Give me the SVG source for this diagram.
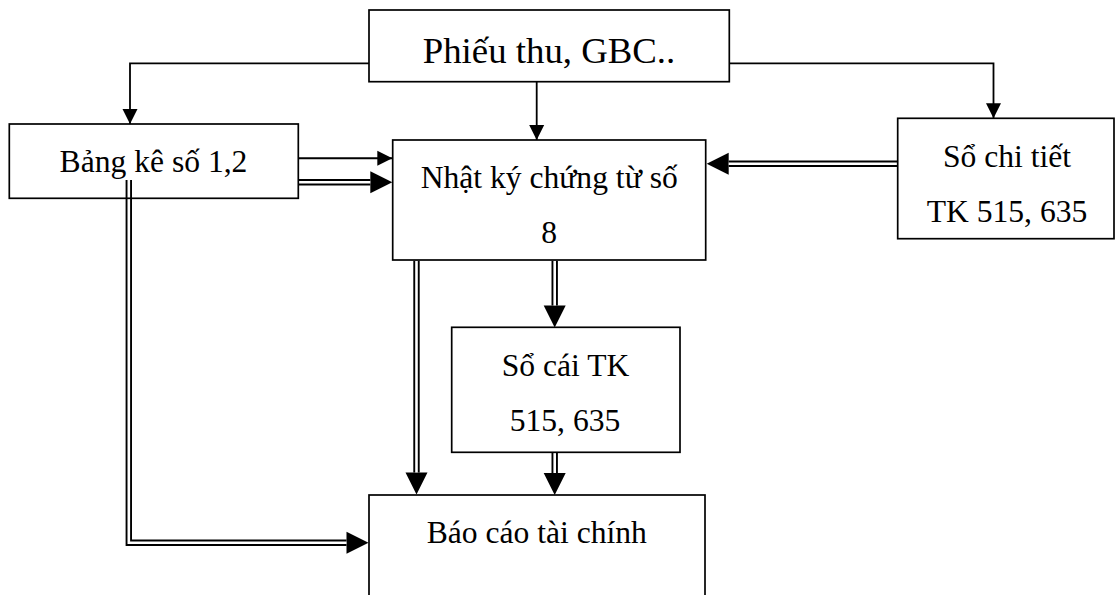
<svg xmlns="http://www.w3.org/2000/svg" width="1115" height="595" viewBox="0 0 1115 595">
  <style>
    .box { fill: none; stroke: #000; stroke-width: 1.7; }
    .lbl { font-family: "Liberation Serif", "Times New Roman", serif; font-size: 31.6px; fill: #000; text-anchor: middle; }
    .big { font-size: 36.8px; }
    .one { fill: none; stroke: #000; stroke-width: 1.8; marker-end: url(#head); }
    .dbl { fill: none; stroke: #000; stroke-width: 6.4; stroke-linejoin: miter; marker-end: url(#bighead); }
    .gap { fill: none; stroke: #fff; stroke-width: 2.6; stroke-linejoin: miter; }
  </style>
  <defs>
    <!-- small solid head, tip on the path end -->
    <marker id="head" markerUnits="userSpaceOnUse" markerWidth="16" markerHeight="16" refX="15" refY="7.5" orient="auto" overflow="visible">
      <path d="M0,0 L15,7.5 L0,15 z" fill="#000"/>
    </marker>
    <!-- large head for double lines, base on the path end -->
    <marker id="bighead" markerUnits="userSpaceOnUse" markerWidth="23" markerHeight="23" refX="0" refY="11" orient="auto" overflow="visible">
      <path d="M0,0 L22,11 L0,22 z" fill="#000"/>
    </marker>
  </defs>

  <rect width="1115" height="595" fill="#fff"/>

  <g id="connectors">
    <!-- single-line flows from the source documents -->
    <path class="one" d="M369,63.3 H130 V124"/>
    <path class="one" d="M536.7,81.7 V140"/>
    <path class="one" d="M729.3,63.3 H993.5 V118.3"/>
    <path class="one" style="stroke-width:2.1" d="M298,158.3 H392.3"/>

    <!-- double-line flows -->
    <path class="dbl" d="M298,182.2 H370.3"/>
    <path class="gap" d="M299,182.2 H370.3"/>

    <path class="dbl" d="M897,163.7 H728.7"/>
    <path class="gap" d="M897,163.7 H728.7"/>

    <path class="dbl" d="M416.5,260.8 V472.5"/>
    <path class="gap" d="M416.5,260.8 V472.5"/>

    <path class="dbl" d="M554.7,260.8 V305.5"/>
    <path class="gap" d="M554.7,260.8 V305.5"/>

    <path class="dbl" d="M554.7,453 V473"/>
    <path class="gap" d="M554.7,453 V473"/>

    <path class="dbl" d="M128.8,180 V542.8 H346.5"/>
    <path class="gap" d="M128.8,180 V542.8 H346.5"/>
  </g>

  <g id="phieu-thu">
    <rect class="box" x="369" y="10" width="360.3" height="71.7"/>
    <text class="lbl big" x="549" y="63.3">Phiếu thu, GBC..</text>
  </g>

  <g id="bang-ke">
    <rect class="box" x="9.3" y="124" width="289" height="74.3"/>
    <text class="lbl" x="153.5" y="171.7">Bảng kê số 1,2</text>
  </g>

  <g id="nhat-ky">
    <rect class="box" x="392.7" y="140" width="313" height="120"/>
    <text class="lbl" x="549.2" y="188.3">Nhật ký chứng từ số</text>
    <text class="lbl" x="549.2" y="243.3">8</text>
  </g>

  <g id="so-chi-tiet">
    <rect class="box" x="897.7" y="118.3" width="216.3" height="120.4"/>
    <text class="lbl" x="1007" y="166.7">Sổ chi tiết</text>
    <text class="lbl" x="1007" y="221.7">TK 515, 635</text>
  </g>

  <g id="so-cai">
    <rect class="box" x="451.7" y="327.3" width="228.3" height="125"/>
    <text class="lbl" x="565.5" y="376">Sổ cái TK</text>
    <text class="lbl" x="565" y="431">515, 635</text>
  </g>

  <g id="bao-cao">
    <rect class="box" x="369" y="495" width="336" height="130"/>
    <text class="lbl" x="536.8" y="543.3">Báo cáo tài chính</text>
  </g>
</svg>
